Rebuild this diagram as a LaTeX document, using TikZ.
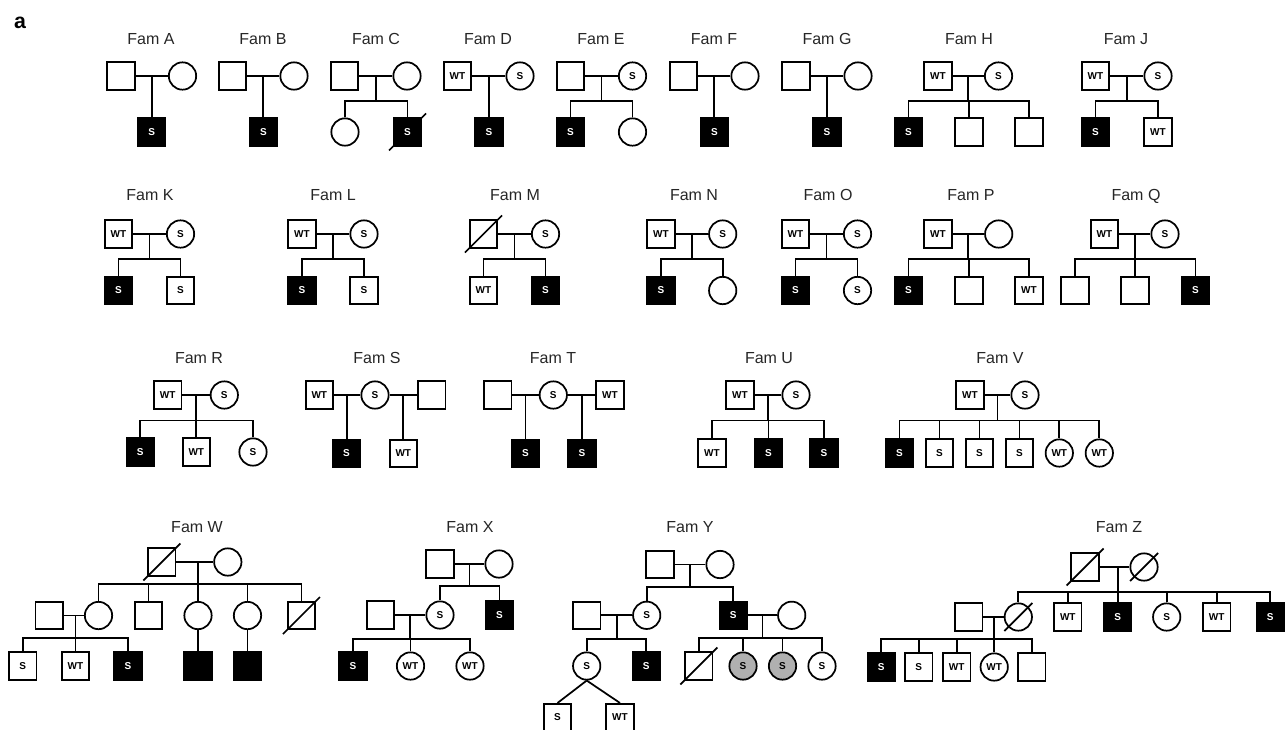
\documentclass[tikz,border=0pt]{standalone}
\usepackage{fontspec}
\setmainfont{Liberation Sans}
\usetikzlibrary{calc,backgrounds}
\definecolor{carrgray}{RGB}{176,176,176}
\newcommand\pedsym{\bfseries\fontsize{7.5}{9}\selectfont}
\newcommand\pedlab{\fontsize{12}{14}\selectfont}
\newcommand\decsq[1]{\draw[lnk] ([shift={(-18.5,18.5)}]#1.center) -- ([shift={(18.5,-18.5)}]#1.center);}
\newcommand\decci[1]{\draw[lnk] ([shift={(-14,14)}]#1.center) -- ([shift={(14,-14)}]#1.center);}
\tikzset{
  sym/.style={draw, line width=1.3pt, minimum size=20.5pt, inner sep=0pt, font=\pedsym},
  ma/.style={sym, rectangle},
  fe/.style={sym, circle},
  aff/.style={fill=black, text=white},
  car/.style={fill=carrgray},
  lnk/.style={line width=1.3pt},
  fam/.style={anchor=base, font=\pedlab, text=black!85},
}
\begin{document}
\begin{tikzpicture}[x=0.75pt,y=-0.75pt]
\useasboundingbox (0,0) rectangle (1287,729);
\node[font=\bfseries\fontsize{16}{16}\selectfont, anchor=base] (pa) at (20,28) {a};
% ---------------- Row 1
\node[fam] (tA) at (151,44) {Fam A};
\node[ma] (A1) at (121,76) {}; \node[fe] (A2) at (182.5,76) {}; \node[ma,aff] (A3) at (151.7,132) {S};
\draw[lnk] (A1.east) -- (A2.west);
\draw[lnk] ($(A1.east)!.5!(A2.west)$) coordinate (Am) -- (Am |- A3.north);
\node[fam] (tB) at (263,44) {Fam B};
\node[ma] (B1) at (232.5,76) {}; \node[fe] (B2) at (294,76) {}; \node[ma,aff] (B3) at (263.5,132) {S};
\draw[lnk] (B1.east) -- (B2.west);
\draw[lnk] ($(B1.east)!.5!(B2.west)$) coordinate (Bm) -- (Bm |- B3.north);
\node[fam] (tC) at (376,44) {Fam C};
\node[ma] (C1) at (344.5,76) {}; \node[fe] (C2) at (407,76) {};
\node[fe] (C3) at (345,132) {}; \node[ma,aff] (C4) at (407.5,132) {S};
\draw[lnk] (C1.east) -- (C2.west);
\draw[lnk] ($(C1.east)!.5!(C2.west)$) coordinate (Cm) -- ++(0,25) coordinate (Cs);
\draw[lnk] (C3.north) |- (Cs) -| (C4.north);
\begin{pgfonlayer}{background}\decsq{C4}\end{pgfonlayer}
\node[fam] (tD) at (488,44) {Fam D};
\node[ma] (D1) at (457.5,76) {WT}; \node[fe] (D2) at (520,76) {S}; \node[ma,aff] (D3) at (489,132) {S};
\draw[lnk] (D1.east) -- (D2.west);
\draw[lnk] ($(D1.east)!.5!(D2.west)$) coordinate (Dm) -- (Dm |- D3.north);
\node[fam] (tE) at (601,44) {Fam E};
\node[ma] (E1) at (570.5,76) {}; \node[fe] (E2) at (632.5,76) {S};
\node[ma,aff] (E3) at (570.5,132) {S}; \node[fe] (E4) at (632.5,132) {};
\draw[lnk] (E1.east) -- (E2.west);
\draw[lnk] ($(E1.east)!.5!(E2.west)$) coordinate (Em) -- ++(0,25) coordinate (Es);
\draw[lnk] (E3.north) |- (Es) -| (E4.north);
\node[fam] (tF) at (714,44) {Fam F};
\node[ma] (F1) at (683.5,76) {}; \node[fe] (F2) at (745,76) {}; \node[ma,aff] (F3) at (714.5,132) {S};
\draw[lnk] (F1.east) -- (F2.west);
\draw[lnk] ($(F1.east)!.5!(F2.west)$) coordinate (Fm) -- (Fm |- F3.north);
\node[fam] (tG) at (827,44) {Fam G};
\node[ma] (G1) at (796,76) {}; \node[fe] (G2) at (858,76) {}; \node[ma,aff] (G3) at (827,132) {S};
\draw[lnk] (G1.east) -- (G2.west);
\draw[lnk] ($(G1.east)!.5!(G2.west)$) coordinate (Gm) -- (Gm |- G3.north);
\node[fam] (tH) at (969,44) {Fam H};
\node[ma] (H1) at (938,76) {WT}; \node[fe] (H2) at (998.5,76) {S};
\node[ma,aff] (H3) at (908.5,132) {S}; \node[ma] (H4) at (969,132) {}; \node[ma] (H5) at (1029,132) {};
\draw[lnk] (H1.east) -- (H2.west);
\draw[lnk] ($(H1.east)!.5!(H2.west)$) coordinate (Hm) -- ++(0,25) coordinate (Hs);
\draw[lnk] (H3.north) |- (Hs) -| (H5.north);
\draw[lnk] (H4.north) -- (H4.north |- Hs);
\node[fam] (tJ) at (1126,44) {Fam J};
\node[ma] (J1) at (1095.5,76) {WT}; \node[fe] (J2) at (1158,76) {S};
\node[ma,aff] (J3) at (1095.5,132) {S}; \node[ma] (J4) at (1158,132) {WT};
\draw[lnk] (J1.east) -- (J2.west);
\draw[lnk] ($(J1.east)!.5!(J2.west)$) coordinate (Jm) -- ++(0,25) coordinate (Js);
\draw[lnk] (J3.north) |- (Js) -| (J4.north);
% ---------------- Row 2
\node[fam] (tK) at (150,200) {Fam K};
\node[ma] (K1) at (118.5,234) {WT}; \node[fe] (K2) at (180.5,234) {S};
\node[ma,aff] (K3) at (118.5,290.5) {S}; \node[ma] (K4) at (180.5,290.5) {S};
\draw[lnk] (K1.east) -- (K2.west);
\draw[lnk] ($(K1.east)!.5!(K2.west)$) coordinate (Km) -- ++(0,25) coordinate (Ks);
\draw[lnk] (K3.north) |- (Ks) -| (K4.north);
\node[fam] (tL) at (333,200) {Fam L};
\node[ma] (L1) at (302,234) {WT}; \node[fe] (L2) at (364,234) {S};
\node[ma,aff] (L3) at (302,290.5) {S}; \node[ma] (L4) at (364,290.5) {S};
\draw[lnk] (L1.east) -- (L2.west);
\draw[lnk] ($(L1.east)!.5!(L2.west)$) coordinate (Lm) -- ++(0,25) coordinate (Ls);
\draw[lnk] (L3.north) |- (Ls) -| (L4.north);
\node[fam] (tM) at (515,200) {Fam M};
\node[ma] (M1) at (483.5,234) {}; \node[fe] (M2) at (545.5,234) {S};
\node[ma] (M3) at (483.5,290.5) {WT}; \node[ma,aff] (M4) at (545.5,290.5) {S};
\draw[lnk] (M1.east) -- (M2.west);
\draw[lnk] ($(M1.east)!.5!(M2.west)$) coordinate (Mm) -- ++(0,25) coordinate (Ms);
\draw[lnk] (M3.north) |- (Ms) -| (M4.north);
\decsq{M1}
\node[fam] (tN) at (694,200) {Fam N};
\node[ma] (N1) at (661,234) {WT}; \node[fe] (N2) at (722.7,234) {S};
\node[ma,aff] (N3) at (661,290.5) {S}; \node[fe] (N4) at (722.7,290.5) {};
\draw[lnk] (N1.east) -- (N2.west);
\draw[lnk] ($(N1.east)!.5!(N2.west)$) coordinate (Nm) -- ++(0,25) coordinate (Ns);
\draw[lnk] (N3.north) |- (Ns) -| (N4.north);
\node[fam] (tO) at (828,200) {Fam O};
\node[ma] (O1) at (795.5,234) {WT}; \node[fe] (O2) at (857.5,234) {S};
\node[ma,aff] (O3) at (795.5,290.5) {S}; \node[fe] (O4) at (857.5,290.5) {S};
\draw[lnk] (O1.east) -- (O2.west);
\draw[lnk] ($(O1.east)!.5!(O2.west)$) coordinate (Om) -- ++(0,25) coordinate (Os);
\draw[lnk] (O3.north) |- (Os) -| (O4.north);
\node[fam] (tP) at (971,200) {Fam P};
\node[ma] (P1) at (938,234) {WT}; \node[fe] (P2) at (998.7,234) {};
\node[ma,aff] (P3) at (908.5,290.5) {S}; \node[ma] (P4) at (969,290.5) {}; \node[ma] (P5) at (1029,290.5) {WT};
\draw[lnk] (P1.east) -- (P2.west);
\draw[lnk] ($(P1.east)!.5!(P2.west)$) coordinate (Pm) -- ++(0,25) coordinate (Ps);
\draw[lnk] (P3.north) |- (Ps) -| (P5.north);
\draw[lnk] (P4.north) -- (P4.north |- Ps);
\node[fam] (tQ) at (1136,200) {Fam Q};
\node[ma] (Q1) at (1104.5,234) {WT}; \node[fe] (Q2) at (1165,234) {S};
\node[ma] (Q3) at (1075,290.5) {}; \node[ma] (Q4) at (1135,290.5) {}; \node[ma,aff] (Q5) at (1195.5,290.5) {S};
\draw[lnk] (Q1.east) -- (Q2.west);
\draw[lnk] ($(Q1.east)!.5!(Q2.west)$) coordinate (Qm) -- ++(0,25) coordinate (Qs);
\draw[lnk] (Q3.north) |- (Qs) -| (Q5.north);
\draw[lnk] (Q4.north) -- (Q4.north |- Qs);
% ---------------- Row 3
\node[fam] (tR) at (199,363) {Fam R};
\node[ma] (R1) at (167.7,395) {WT}; \node[fe] (R2) at (224.3,395) {S};
\node[ma,aff] (R3) at (140.3,452) {S}; \node[ma] (R4) at (196.3,452) {WT}; \node[fe] (R5) at (253,452) {S};
\draw[lnk] (R1.east) -- (R2.west);
\draw[lnk] ($(R1.east)!.5!(R2.west)$) coordinate (Rm) -- ++(0,25.5) coordinate (Rs);
\draw[lnk] (R3.north) |- (Rs) -| (R5.north);
\draw[lnk] (R4.north) -- (R4.north |- Rs);
\node[fam] (tS) at (377,363) {Fam S};
\node[ma] (S1) at (319.3,395) {WT}; \node[fe] (S2) at (375,395) {S}; \node[ma] (S3) at (431.7,395) {};
\node[ma,aff] (S4) at (346.5,453.5) {S}; \node[ma] (S5) at (403.3,453.5) {WT};
\draw[lnk] (S1.east) -- (S2.west);
\draw[lnk] (S2.east) -- (S3.west);
\draw[lnk] ($(S1.east)!.5!(S2.west)$) coordinate (Sm1) -- (Sm1 |- S4.north);
\draw[lnk] ($(S2.east)!.5!(S3.west)$) coordinate (Sm2) -- (Sm2 |- S5.north);
\node[fam] (tT) at (553,363) {Fam T};
\node[ma] (T1) at (497.7,395) {}; \node[fe] (T2) at (553.3,395) {S}; \node[ma] (T3) at (610,395) {WT};
\node[ma,aff] (T4) at (525.5,453.5) {S}; \node[ma,aff] (T5) at (582,453.5) {S};
\draw[lnk] (T1.east) -- (T2.west);
\draw[lnk] (T2.east) -- (T3.west);
\draw[lnk] ($(T1.east)!.5!(T2.west)$) coordinate (Tm1) -- (Tm1 |- T4.north);
\draw[lnk] ($(T2.east)!.5!(T3.west)$) coordinate (Tm2) -- (Tm2 |- T5.north);
\node[fam] (tU) at (769,363) {Fam U};
\node[ma] (U1) at (740,395) {WT}; \node[fe] (U2) at (796,395) {S};
\node[ma] (U3) at (712,453) {WT}; \node[ma,aff] (U4) at (768.5,453) {S}; \node[ma,aff] (U5) at (824,453) {S};
\draw[lnk] (U1.east) -- (U2.west);
\draw[lnk] ($(U1.east)!.5!(U2.west)$) coordinate (Um) -- ++(0,25.5) coordinate (Us);
\draw[lnk] (U3.north) |- (Us) -| (U5.north);
\draw[lnk] (U4.north) -- (U4.north |- Us);
\node[fam] (tV) at (1000,363) {Fam V};
\node[ma] (V1) at (970,395) {WT}; \node[fe] (V2) at (1025,395) {S};
\node[ma,aff] (V3) at (899.5,453) {S}; \node[ma] (V4) at (939.5,453) {S}; \node[ma] (V5) at (979.5,453) {S};
\node[ma] (V6) at (1019.5,453) {S}; \node[fe] (V7) at (1059.3,453) {WT}; \node[fe] (V8) at (1099.3,453) {WT};
\draw[lnk] (V1.east) -- (V2.west);
\draw[lnk] ($(V1.east)!.5!(V2.west)$) coordinate (Vm) -- ++(0,25.5) coordinate (Vs);
\draw[lnk] (V3.north) |- (Vs) -| (V8.north);
\foreach \k in {V4,V5,V6,V7} \draw[lnk] (\k.north) -- (\k.north |- Vs);
% ---------------- Row 4 : Fam W
\node[fam] (tW) at (197,532) {Fam W};
\node[ma] (W1) at (161.8,562) {}; \node[fe] (W2) at (227.8,562) {};
\node[ma] (W3) at (49.2,615.5) {}; \node[fe] (W4) at (98.5,615.5) {}; \node[ma] (W5) at (148.5,615.5) {};
\node[fe] (W6) at (198,615.5) {}; \node[fe] (W7) at (247.5,615.5) {}; \node[ma] (W8) at (301.5,615.5) {};
\node[ma] (W9) at (22.8,666) {S}; \node[ma] (W10) at (75.5,666) {WT}; \node[ma,aff] (W11) at (128,666) {S};
\node[ma,aff] (W12) at (198,666) {}; \node[ma,aff] (W13) at (247.5,666) {};
\draw[lnk] (W1.east) -- (W2.west);
\coordinate (Ws) at (198,584.3);
\draw[lnk] (W6.north |- W1.east) -- (W6.north);
\draw[lnk] (W4.north) |- (Ws) -| (W8.north);
\draw[lnk] (W5.north) -- (W5.north |- Ws);
\draw[lnk] (W7.north) -- (W7.north |- Ws);
\draw[lnk] (W3.east) -- (W4.west);
\coordinate (Ws2) at (75.5,638.3);
\draw[lnk] (W10.north |- W3.east) -- (W10.north);
\draw[lnk] (W9.north) |- (Ws2) -| (W11.north);
\draw[lnk] (W6.south) -- (W12.north);
\draw[lnk] (W7.south) -- (W13.north);
\decsq{W1}
\decsq{W8}
% ---------------- Fam X
\node[fam] (tX) at (470,532) {Fam X};
\node[ma] (X1) at (440,564) {}; \node[fe] (X2) at (499,564) {};
\node[fe] (X3) at (440,615) {S}; \node[ma,aff] (X4) at (499.5,615) {S}; \node[ma] (X5) at (380.5,615) {};
\node[ma,aff] (X6) at (353,666) {S}; \node[fe] (X7) at (410.5,666) {WT}; \node[fe] (X8) at (470,666) {WT};
\draw[lnk] (X1.east) -- (X2.west);
\draw[lnk] ($(X1.east)!.5!(X2.west)$) coordinate (Xm) -- ++(0,21.7) coordinate (Xs);
\draw[lnk] (X3.north) |- (Xs) -| (X4.north);
\draw[lnk] (X5.east) -- (X3.west);
\draw[lnk] ($(X5.east)!.5!(X3.west)$) coordinate (Xm2) -- ++(0,24.3) coordinate (Xs2);
\draw[lnk] (X6.north) |- (Xs2) -| (X8.north);
\draw[lnk] (X7.north) -- (X7.north |- Xs2);
% ---------------- Fam Y
\node[fam] (tY) at (690,532) {Fam Y};
\node[ma] (Y1) at (660,564.5) {}; \node[fe] (Y2) at (720,564.5) {};
\node[fe] (Y3) at (646.7,615.3) {S}; \node[ma,aff] (Y4) at (733.3,615.3) {S};
\node[ma] (Y5) at (586.7,615.3) {}; \node[fe] (Y8) at (791.7,615.3) {};
\node[fe] (Y6) at (586.7,666) {S}; \node[ma,aff] (Y7) at (646.3,666) {S};
\node[ma] (Y9) at (698.8,666) {}; \node[fe,car] (Y10) at (743,666) {S};
\node[fe,car] (Y11) at (782.5,666) {S}; \node[fe] (Y12) at (822,666) {S};
\node[ma] (Y13) at (557.5,717.5) {S}; \node[ma] (Y14) at (620,717.5) {WT};
\draw[lnk] (Y1.east) -- (Y2.west);
\draw[lnk] ($(Y1.east)!.5!(Y2.west)$) coordinate (Ym) -- ++(0,22.8) coordinate (Ys);
\draw[lnk] (Y3.north) |- (Ys) -| (Y4.north);
\draw[lnk] (Y5.east) -- (Y3.west);
\draw[lnk] ($(Y5.east)!.5!(Y3.west)$) coordinate (Ym2) -- ++(0,24) coordinate (Ys2);
\draw[lnk] (Y6.north) |- (Ys2) -| (Y7.north);
\draw[lnk] (Y4.east) -- (Y8.west);
\draw[lnk] ($(Y4.east)!.5!(Y8.west)$) coordinate (Ym3) -- ++(0,23) coordinate (Ys3);
\draw[lnk] (Y9.north) |- (Ys3) -| (Y12.north);
\draw[lnk] (Y10.north) -- (Y10.north |- Ys3);
\draw[lnk] (Y11.north) -- (Y11.north |- Ys3);
\draw[lnk] (Y6.south) -- (Y13.north);
\draw[lnk] (Y6.south) -- (Y14.north);
\decsq{Y9}
% ---------------- Fam Z
\node[fam] (tZ) at (1119,532) {Fam Z};
\node[ma] (Z1) at (1085,567) {}; \node[fe] (Z2) at (1144,567) {};
\node[fe] (Z3) at (1018.3,617) {}; \node[ma] (Z4) at (1067.8,617) {WT}; \node[ma,aff] (Z5) at (1117.8,617) {S};
\node[fe] (Z6) at (1166.7,617) {S}; \node[ma] (Z7) at (1216.7,617) {WT}; \node[ma,aff] (Z8) at (1270.3,617) {S};
\node[ma] (Z9) at (968.8,617) {};
\node[ma,aff] (Z10) at (881.3,667) {S}; \node[ma] (Z11) at (918.8,667) {S}; \node[ma] (Z12) at (956.7,667) {WT};
\node[fe] (Z13) at (994.2,667) {WT}; \node[ma] (Z14) at (1031.7,667) {};
\draw[lnk] (Z1.east) -- (Z2.west);
\coordinate (Zs) at (1117.8,591.7);
\draw[lnk] (Z5.north |- Z1.east) -- (Z5.north);
\draw[lnk] (Z3.north) |- (Zs) -| (Z8.north);
\foreach \k in {Z4,Z6,Z7} \draw[lnk] (\k.north) -- (\k.north |- Zs);
\draw[lnk] (Z9.east) -- (Z3.west);
\coordinate (Zs2) at (994.2,639.3);
\draw[lnk] (Z13.north |- Z9.east) -- (Z13.north);
\draw[lnk] (Z10.north) |- (Zs2) -| (Z14.north);
\foreach \k in {Z11,Z12} \draw[lnk] (\k.north) -- (\k.north |- Zs2);
\decsq{Z1}
\decci{Z2}
\decci{Z3}
\end{tikzpicture}
\end{document}
